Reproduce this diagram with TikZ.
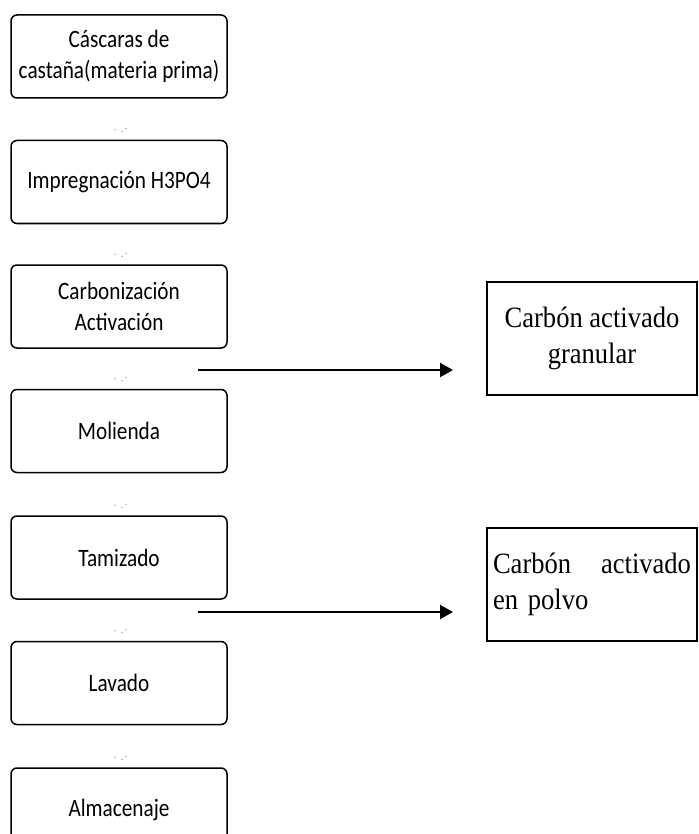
\documentclass[tikz,border=0pt]{standalone}
\usepackage{fontspec}
\usetikzlibrary{positioning,arrows.meta}
\newfontfamily\stepfont[FakeStretch=0.85]{Carlito}
\newfontfamily\prodfont[FakeStretch=0.9]{Liberation Serif}

\begin{document}
\begin{tikzpicture}[x=1pt,y=-1pt,
  stepbox/.style={draw,line width=1.5pt,rounded corners=6pt,minimum width=216pt,
    minimum height=83pt,inner sep=0pt,align=center,font=\stepfont\fontsize{25}{31}\selectfont},
  prodbox/.style={draw,line width=2pt,minimum width=210pt,minimum height=113pt,
    inner sep=0pt,font=\prodfont\fontsize{29.5}{36}\selectfont},
  flow/.style={line width=2.2pt,-{Triangle[length=13pt,width=14pt]}},
  speck/.style={fill=black!55}]
\useasboundingbox (0,0) rectangle (698,834);

% process steps
\node[stepbox] (casc) at (119,56.5) {Cáscaras de\\castaña(materia prima)};
\node[stepbox,below=41pt of casc] (impr) {Impregnación H3PO4};
\node[stepbox,below=40pt of impr] (carb) {Carbonización\\Activación};
\node[stepbox,below=40pt of carb] (mol) {Molienda};
\node[stepbox,below=42pt of mol] (tam) {Tamizado};
\node[stepbox,below=41pt of tam] (lav) {Lavado};
\node[stepbox,below=42pt of lav] (alm) {Almacenaje};

% leftover marks between the steps
\foreach \n in {impr,carb,mol,tam,lav,alm}{
  \fill[speck] ([shift={(-4,-10)}]\n.north) circle (0.7pt);
  \fill[speck] ([shift={(3,-8)}]\n.north) circle (0.7pt);
  \fill[speck] ([shift={(7,-11)}]\n.north) circle (0.7pt);
}

% products
\node[prodbox,align=center] (gran) at (592,338.5) {Carbón activado\\granular};
\node[prodbox,text width=198pt,align=left] (polv) at (592,584.5) {Carbón\hfill activado\\en polvo};

\coordinate (g1) at (198,370);
\coordinate (g1e) at (453,370);
\coordinate (p1) at (198,612);
\coordinate (p1e) at (453,612);
\draw[flow] (g1) -- (g1e);
\draw[flow] (p1) -- (p1e);
\end{tikzpicture}
\end{document}
